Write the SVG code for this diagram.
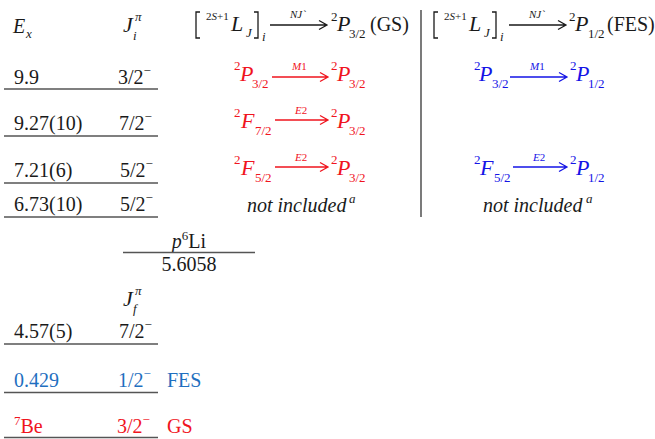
<svg xmlns="http://www.w3.org/2000/svg" width="655" height="439" viewBox="0 0 655 439">
<style>
text{font-family:"Liberation Serif","Times New Roman",serif;fill:#1a1a1a}
.v{font-size:20px}
.it{font-style:italic}
.sm{font-size:13px}
.ss{font-size:11px}
.xs{font-size:11px}
.big{font-size:22px}
.red text{fill:#f0141e}
.blue text{fill:#1414e6}
.lb text{fill:#1f6fc0}
.lvl{stroke:#555;stroke-width:1.6}
.arr{stroke:#1a1a1a;stroke-width:1.3;fill:none}
.red .arr{stroke:#f0141e}
.blue .arr{stroke:#1414e6}
</style>
<rect width="655" height="439" fill="#fff"/>

<g id="hdr-left">
<text class="v it" x="13" y="33">E</text>
<text class="sm it" x="26" y="38">x</text>
<text class="big it" x="123" y="32">J</text>
<text class="sm it" x="135" y="21">π</text>
<text class="sm it" x="133" y="40">i</text>
</g>

<g id="hdr-gs">
<path class="arr" d="M200,12 H196 V38 H200 M254,12 H258 V38 H254"/>
<text class="ss" x="206" y="20">2<tspan class="it">S</tspan>+1</text>
<text class="big it" x="231" y="31">L</text>
<text class="sm it" x="246" y="37">J</text>
<text class="sm it" x="262" y="41">i</text>
<path class="arr" d="M270,25 H327 M319,20.5 L327,25 L319,29.5"/>
<text class="xs it" x="290" y="18">NJ`</text>
<text class="sm" x="331" y="21">2</text>
<text class="big it" x="337" y="31">P</text>
<text class="sm" x="349" y="38">3/2</text>
<text class="v" x="370" y="31">(GS)</text>
</g>

<g id="hdr-fes">
<path class="arr" d="M438,12 H434 V38 H438 M492,12 H496 V38 H492"/>
<text class="ss" x="444" y="20">2<tspan class="it">S</tspan>+1</text>
<text class="big it" x="469" y="31">L</text>
<text class="sm it" x="484" y="37">J</text>
<text class="sm it" x="500" y="41">i</text>
<path class="arr" d="M509,25 H566 M558,20.5 L566,25 L558,29.5"/>
<text class="xs it" x="529" y="18">NJ`</text>
<text class="sm" x="569" y="21">2</text>
<text class="big it" x="575" y="31">P</text>
<text class="sm" x="588" y="38">1/2</text>
<text class="v" x="607" y="31">(FES)</text>
</g>

<line x1="421" y1="10" x2="421" y2="217" stroke="#333" stroke-width="1.3"/>

<g id="lvl-9.9">
<text class="v" x="14" y="84">9.9</text>
<text class="v" x="118" y="84">3/2<tspan class="sm" dy="-9">−</tspan></text>
<line class="lvl" x1="4" y1="89" x2="158" y2="89"/>
</g>
<g id="lvl-9.27">
<text class="v" x="14" y="130">9.27(10)</text>
<text class="v" x="119" y="130">7/2<tspan class="sm" dy="-9">−</tspan></text>
<line class="lvl" x1="4" y1="136" x2="158" y2="136"/>
</g>
<g id="lvl-7.21">
<text class="v" x="14" y="177">7.21(6)</text>
<text class="v" x="120" y="177">5/2<tspan class="sm" dy="-9">−</tspan></text>
<line class="lvl" x1="4" y1="183" x2="158" y2="183"/>
</g>
<g id="lvl-6.73">
<text class="v" x="14" y="211">6.73(10)</text>
<text class="v" x="120" y="211">5/2<tspan class="sm" dy="-9">−</tspan></text>
<line class="lvl" x1="4" y1="217" x2="158" y2="217"/>
</g>

<g id="gs-m1" class="red">
<text class="sm" x="234" y="70">2</text>
<text class="big it" x="240" y="81">P</text>
<text class="sm" x="252" y="88">3/2</text>
<path class="arr" d="M272,77 H328 M320,72.5 L328,77 L320,81.5"/>
<text class="xs it" x="292" y="70">M<tspan font-style="normal">1</tspan></text>
<text class="sm" x="331" y="70">2</text>
<text class="big it" x="337" y="81">P</text>
<text class="sm" x="349" y="88">3/2</text>
</g>
<g id="gs-e2a" class="red">
<text class="sm" x="234" y="117">2</text>
<text class="big it" x="241" y="128">F</text>
<text class="sm" x="255" y="135">7/2</text>
<path class="arr" d="M275,120 H328 M320,115.5 L328,120 L320,124.5"/>
<text class="xs it" x="295" y="114">E<tspan font-style="normal">2</tspan></text>
<text class="sm" x="331" y="117">2</text>
<text class="big it" x="337" y="128">P</text>
<text class="sm" x="349" y="135">3/2</text>
</g>
<g id="gs-e2b" class="red">
<text class="sm" x="234" y="164">2</text>
<text class="big it" x="241" y="175">F</text>
<text class="sm" x="255" y="182">5/2</text>
<path class="arr" d="M275,167 H328 M320,162.5 L328,167 L320,171.5"/>
<text class="xs it" x="295" y="161">E<tspan font-style="normal">2</tspan></text>
<text class="sm" x="331" y="164">2</text>
<text class="big it" x="337" y="175">P</text>
<text class="sm" x="349" y="182">3/2</text>
</g>
<g id="gs-ni">
<text class="v it" x="247" y="212">not included</text>
<text class="sm it" x="349" y="203">a</text>
</g>

<g id="fes-m1" class="blue">
<text class="sm" x="474" y="70">2</text>
<text class="big it" x="479" y="81">P</text>
<text class="sm" x="492" y="88">3/2</text>
<path class="arr" d="M510,77 H567 M559,72.5 L567,77 L559,81.5"/>
<text class="xs it" x="530" y="70">M<tspan font-style="normal">1</tspan></text>
<text class="sm" x="570" y="70">2</text>
<text class="big it" x="576" y="81">P</text>
<text class="sm" x="588" y="88">1/2</text>
</g>
<g id="fes-e2" class="blue">
<text class="sm" x="474" y="164">2</text>
<text class="big it" x="480" y="175">F</text>
<text class="sm" x="494" y="182">5/2</text>
<path class="arr" d="M513,167 H567 M559,162.5 L567,167 L559,171.5"/>
<text class="xs it" x="533" y="161">E<tspan font-style="normal">2</tspan></text>
<text class="sm" x="570" y="164">2</text>
<text class="big it" x="576" y="175">P</text>
<text class="sm" x="588" y="182">1/2</text>
</g>
<g id="fes-ni">
<text class="v it" x="483" y="212">not included</text>
<text class="sm it" x="586" y="203">a</text>
</g>

<g id="threshold">
<text class="v" x="189" y="248" text-anchor="middle"><tspan class="it">p</tspan><tspan class="sm" dy="-8">6</tspan><tspan dy="8">Li</tspan></text>
<line class="lvl" x1="123" y1="252.5" x2="255" y2="252.5"/>
<text class="v" x="189" y="271" text-anchor="middle">5.6058</text>
</g>

<g id="hdr-jf">
<text class="big it" x="123" y="306">J</text>
<text class="sm it" x="135" y="295">π</text>
<text class="sm it" x="133" y="313">f</text>
</g>

<g id="lvl-4.57">
<text class="v" x="14" y="338">4.57(5)</text>
<text class="v" x="119" y="338">7/2<tspan class="sm" dy="-9">−</tspan></text>
<line class="lvl" x1="4" y1="344" x2="158" y2="344"/>
</g>
<g id="lvl-fes" class="lb">
<text class="v" x="14" y="387">0.429</text>
<text class="v" x="118" y="387">1/2<tspan class="sm" dy="-9">−</tspan></text>
<text class="v" x="167" y="387">FES</text>
<line class="lvl" x1="4" y1="392.5" x2="158" y2="392.5"/>
</g>
<g id="lvl-gs" class="red">
<text class="v" x="14" y="433"><tspan class="sm" dy="-8">7</tspan><tspan dy="8">Be</tspan></text>
<text class="v" x="117" y="433">3/2<tspan class="sm" dy="-9">−</tspan></text>
<text class="v" x="167" y="433">GS</text>
<line class="lvl" x1="4" y1="437.5" x2="158" y2="437.5"/>
</g>
</svg>
